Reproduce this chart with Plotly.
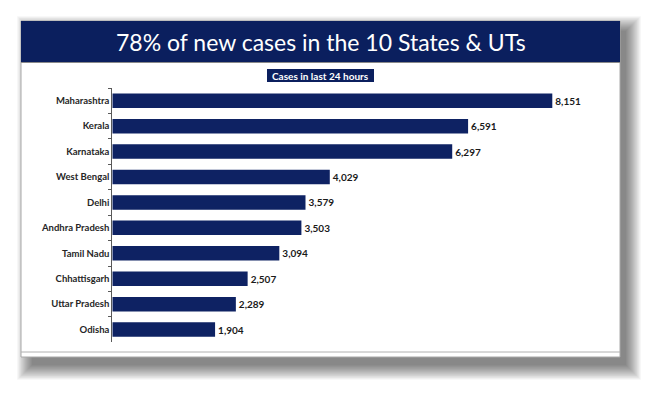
import plotly.graph_objects as go

states = ["Maharashtra", "Kerala", "Karnataka", "West Bengal", "Delhi",
          "Andhra Pradesh", "Tamil Nadu", "Chhattisgarh", "Uttar Pradesh", "Odisha"]
cases = [8151, 6591, 6297, 4029, 3579, 3503, 3094, 2507, 2289, 1904]

title_text = "78% of new cases in the 10 States & UTs"
subtitle_text = "Cases in last 24 hours"

W, H = 662, 399
NAVY = "#0b1f5e"
BAR = "#0e2263"


def px(x):
    return x / W


def py(y):
    return 1 - y / H


fig = go.Figure()
fig.add_trace(go.Bar(
    x=cases, y=states, orientation="h",
    marker=dict(color=BAR, line=dict(width=0)),
    text=cases, texttemplate="%{x:,}", textposition="outside",
    textfont=dict(family="Lato", size=10, color="#1a1a1a", weight="bold"),
    constraintext="none", cliponaxis=False, hoverinfo="skip",
))

shapes = []
# soft drop shadow
N = 24
for k in range(N):
    s = 15 * k / (N - 1)
    shapes.append(dict(type="rect", xref="paper", yref="paper",
                       x0=px(21 + 11 - s), x1=px(620 + 6 + s),
                       y0=py(357 + 8 + s), y1=py(21 + 10 - s),
                       fillcolor="rgba(0,0,0,0.022)", line=dict(width=0), layer="below"))
# white panel
shapes.append(dict(type="rect", xref="paper", yref="paper",
                   x0=px(21), x1=px(620), y0=py(357), y1=py(21),
                   fillcolor="white", line=dict(color="#a8a8a8", width=1), layer="below"))
# inner bottom line
shapes.append(dict(type="line", xref="paper", yref="paper",
                   x0=px(21), x1=px(620), y0=py(352), y1=py(352),
                   line=dict(color="#b0b0b0", width=1), layer="below"))
# title banner
shapes.append(dict(type="rect", xref="paper", yref="paper",
                   x0=px(21), x1=px(620), y0=py(62), y1=py(21),
                   fillcolor=NAVY, line=dict(width=0), layer="below"))
shapes.append(dict(type="line", xref="paper", yref="paper",
                   x0=px(21), x1=px(620), y0=py(62.5), y1=py(62.5),
                   line=dict(color="#8a8a8a", width=1), layer="below"))
# subtitle box
shapes.append(dict(type="rect", xref="paper", yref="paper",
                   x0=px(267), x1=px(374), y0=py(82), y1=py(69),
                   fillcolor=NAVY, line=dict(width=0), layer="below"))

annotations = [
    dict(text=title_text, xref="paper", yref="paper", x=px(321), y=py(42),
         xanchor="center", yanchor="middle", showarrow=False,
         font=dict(family="Lato", size=23, color="white")),
    dict(text=subtitle_text, xref="paper", yref="paper", x=px(320.5), y=py(75.5),
         xanchor="center", yanchor="middle", showarrow=False,
         font=dict(family="Lato", size=10, color="white", weight="bold")),
]

x0_px, x1_px = 112.3, 600.0
scale = (552.3 - 112.3) / 8151
fig.update_layout(
    width=W, height=H, margin=dict(l=0, r=0, t=0, b=0),
    paper_bgcolor="white", plot_bgcolor="rgba(0,0,0,0)",
    shapes=shapes, annotations=annotations, showlegend=False,
    bargap=0.43,
    xaxis=dict(domain=[px(x0_px), px(x1_px)], range=[0, (x1_px - x0_px) / scale],
               visible=False, fixedrange=True),
    yaxis=dict(domain=[py(342.3), py(88)], type="category",
               categoryorder="array", categoryarray=states,
               autorange="reversed", showgrid=False, zeroline=False,
               showline=True, linecolor="#595959", linewidth=1,
               ticks="outside", ticklen=3, tickcolor="#595959", tickson="boundaries",
               tickfont=dict(family="Lato", size=9.5, color="#262626", weight="bold"),
               fixedrange=True),
)

fig.write_html("out.html", config={"displayModeBar": False},
               post_script="document.body.style.margin='0';document.body.style.overflow='hidden';")
